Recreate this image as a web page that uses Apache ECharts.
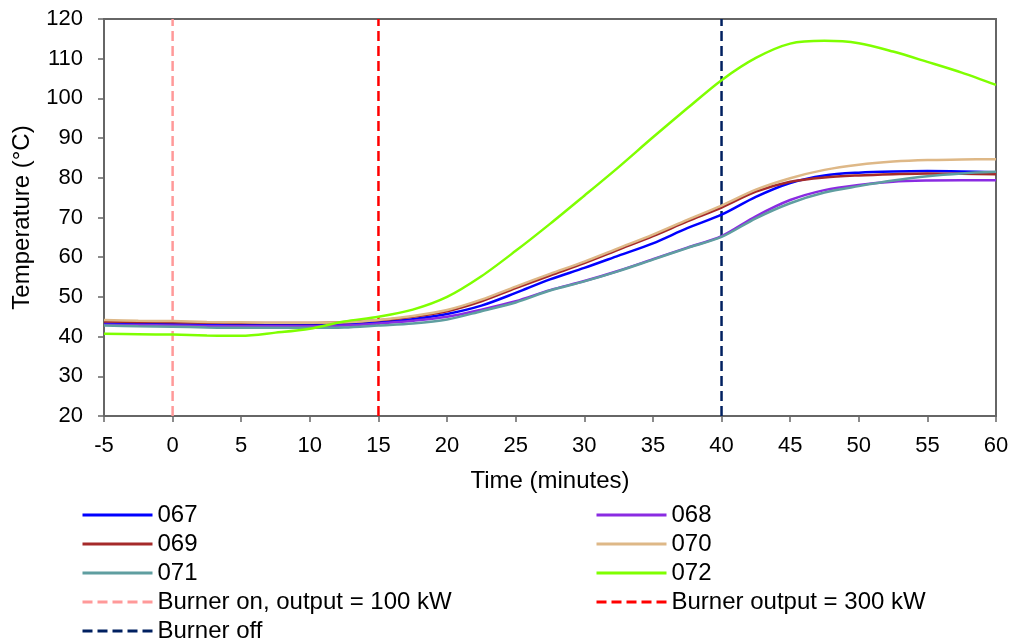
<!DOCTYPE html>
<html>
<head>
<meta charset="utf-8">
<script src="https://cdn.jsdelivr.net/npm/echarts@6/dist/echarts.min.js"></script>
<style>
html,body{margin:0;padding:0;background:#fff;}
#chart{width:1014px;height:643px;}
</style>
</head>
<body>
<div id="chart"></div>
<script>
// Time (minutes)
var time = [-5,-2.5,0,2.5,5,7.5,10,12.5,15,17.5,20,22.5,25,27.5,30,32.5,35,37.5,40,42.5,45,47.5,50,52.5,55,57.5,60];
var s067 = [43.3,43.2,43.1,43.0,42.9,42.9,42.9,43.1,43.6,44.4,45.7,47.8,51.0,54.4,57.3,60.4,63.5,67.3,70.7,75.2,78.7,80.6,81.3,81.6,81.7,81.6,81.4];
var s068 = [43.0,42.9,42.8,42.7,42.6,42.6,42.6,42.8,43.3,44.0,45.0,46.8,48.9,51.7,54.0,56.6,59.5,62.4,65.3,70.3,74.4,76.9,78.2,79.0,79.3,79.4,79.4];
var s069 = [43.8,43.7,43.6,43.5,43.4,43.4,43.4,43.6,44.1,45.0,46.4,48.9,52.2,55.4,58.5,61.9,65.3,69.0,72.5,76.5,79.0,80.1,80.6,80.9,81.1,81.0,80.9];
var s070 = [44.2,44.0,43.9,43.7,43.6,43.5,43.5,43.6,44.2,45.2,46.7,49.3,52.6,55.8,58.9,62.3,65.7,69.4,73.0,77.0,79.9,82.0,83.3,84.1,84.5,84.6,84.7];
var s071 = [42.8,42.6,42.5,42.3,42.2,42.2,42.2,42.3,42.8,43.3,44.3,46.4,48.6,51.6,53.9,56.5,59.4,62.3,65.1,69.8,73.6,76.3,77.9,79.3,80.4,81.1,81.5];
var s072 = [40.7,40.6,40.5,40.3,40.2,41.0,42.0,43.8,45.0,46.8,50.0,55.2,61.6,68.4,75.5,82.7,90.2,97.5,104.6,110.2,113.8,114.5,113.9,111.8,109.2,106.5,103.4];
var seriesNames = ['067','068','069','070','071','072'];
var seriesValues = [s067,s068,s069,s070,s071,s072];
var seriesColors = ['#0000FF','#8A2BE2','#A52A2A','#DEB887','#5F9EA0','#7FFF00'];
// Burner event markers
var eventNames = ['Burner on, output = 100 kW','Burner output = 300 kW','Burner off'];
var eventTimes = [0, 15, 40];
var eventColors = ['#FF9999','#FF0000','#002060'];
var yMin = 20, yMax = 120;

function pairs(vals){ return time.map(function(t,i){ return [t, vals[i]]; }); }

var series = [];
eventNames.forEach(function(n,i){
  series.push({
    name:n, type:'line', symbol:'none', silent:true, z:3,
    data:[[eventTimes[i],yMin],[eventTimes[i],yMax]],
    lineStyle:{color:eventColors[i], width:2.5, type:[10,5]},
    itemStyle:{color:eventColors[i]}
  });
});
seriesNames.forEach(function(n,i){
  series.push({
    name:n, type:'line', symbol:'none', smooth:0.3, z:4,
    data:pairs(seriesValues[i]),
    lineStyle:{color:seriesColors[i], width:2.5},
    itemStyle:{color:seriesColors[i]}
  });
});

var font = 'Liberation Sans, Arial, sans-serif';
function legendCfg(left, names){
  return {
    left:left, top:503, height:150, padding:0,
    orient:'vertical', itemWidth:70, itemHeight:14, itemGap:5,
    data:names,
    itemStyle:{color:'transparent', borderColor:'transparent', borderWidth:0, opacity:0},
    lineStyle:{width:3},
    textStyle:{fontFamily:font, fontSize:24, color:'#000', lineHeight:23, padding:[0,0,0,0]},
    selectedMode:false
  };
}

var chart = echarts.init(document.getElementById('chart'), null, {renderer:'canvas'});
chart.setOption({
  animation:false,
  backgroundColor:'#fff',
  grid:{left:104, right:18, top:19, bottom:227, show:true, borderColor:'#666', borderWidth:2, backgroundColor:'transparent'},
  legend:[
    legendCfg(81, ['067','069','071',eventNames[0],eventNames[2]]),
    legendCfg(595, ['068','070','072',eventNames[1]])
  ],
  xAxis:{
    type:'value', min:-5, max:60, interval:5,
    name:'Time (minutes)', nameLocation:'middle', nameGap:53,
    nameTextStyle:{fontFamily:font, fontSize:24, color:'#000'},
    axisLine:{show:true, onZero:false, lineStyle:{color:'#666', width:2}},
    axisTick:{show:true, inside:false, length:6, lineStyle:{color:'#666', width:1.5}},
    axisLabel:{fontFamily:font, fontSize:22, color:'#000', margin:19},
    splitLine:{show:false}
  },
  yAxis:{
    type:'value', min:yMin, max:yMax, interval:10,
    name:'Temperature (°C)', nameLocation:'middle', nameGap:70,
    nameTextStyle:{fontFamily:font, fontSize:24, color:'#000'},
    axisLine:{show:true, onZero:false, lineStyle:{color:'#666', width:2}},
    axisTick:{show:true, inside:false, length:6, lineStyle:{color:'#666', width:1.5}},
    axisLabel:{fontFamily:font, fontSize:22, color:'#000', margin:21},
    splitLine:{show:false}
  },
  series:series
});
</script>
</body>
</html>
